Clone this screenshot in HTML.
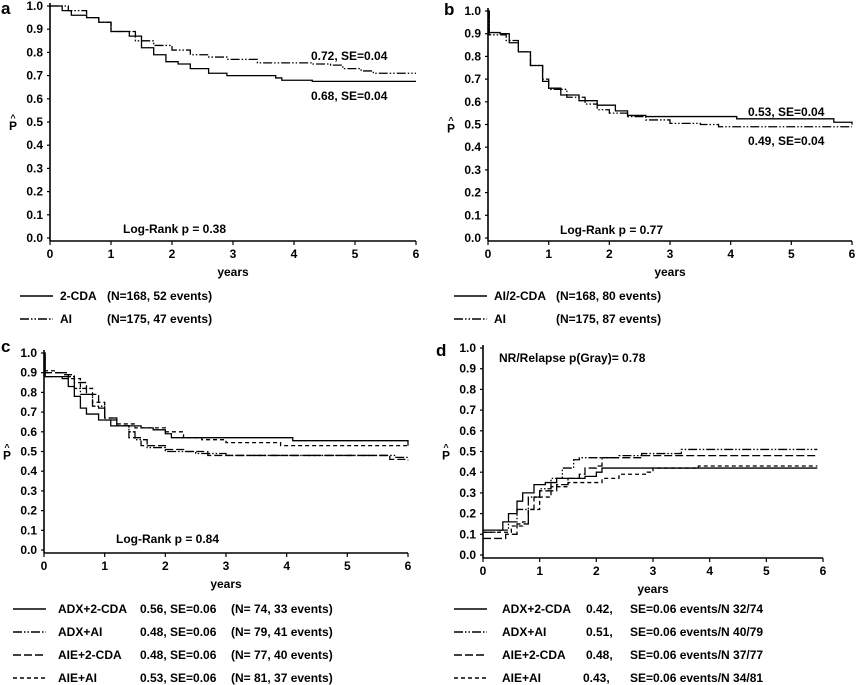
<!DOCTYPE html>
<html><head><meta charset="utf-8"><style>
html,body{margin:0;padding:0;background:#fff;}
svg{display:block;font-family:"Liberation Sans",Arial,sans-serif;font-weight:bold;}
</style></head><body>
<svg id="fig" width="856" height="685" viewBox="0 0 856 685" xmlns="http://www.w3.org/2000/svg"></svg>
<script>
// ---- data ----
const yTicks=["0.0","0.1","0.2","0.3","0.4","0.5","0.6","0.7","0.8","0.9","1.0"];
const xTicks=["0","1","2","3","4","5","6"];
const a_cda=[[0,1],[0.2,0.98],[0.35,0.96],[0.6,0.95],[0.8,0.93],[1,0.89],[1.3,0.87],[1.5,0.82],[1.7,0.79],[1.9,0.76],[2.1,0.75],[2.3,0.73],[2.6,0.71],[2.9,0.70],[3.7,0.69],[3.8,0.68],[4.3,0.675],[6,0.675]];
const a_ai=[[0,1],[0.3,0.98],[0.6,0.95],[0.8,0.93],[1,0.89],[1.4,0.85],[1.7,0.83],[2,0.81],[2.3,0.79],[2.6,0.78],[2.9,0.77],[3.4,0.755],[4.3,0.75],[4.6,0.745],[4.8,0.73],[5.1,0.72],[5.3,0.71],[6,0.71]];
const b_aicda=[[0,1],[0.02,0.905],[0.2,0.9],[0.35,0.86],[0.5,0.82],[0.7,0.76],[0.9,0.69],[1.0,0.66],[1.2,0.63],[1.5,0.605],[1.8,0.585],[2.1,0.56],[2.3,0.54],[2.6,0.535],[4.1,0.525],[5.7,0.51],[6,0.5]];
const b_ai=[[0,1],[0.02,0.895],[0.3,0.87],[0.5,0.82],[0.7,0.76],[0.9,0.7],[1.0,0.655],[1.3,0.62],[1.6,0.59],[1.8,0.565],[2.0,0.55],[2.3,0.535],[2.6,0.52],[3.0,0.505],[3.5,0.5],[3.8,0.49],[6,0.49]];
const c_adxcda=[[0,1],[0.02,0.88],[0.3,0.87],[0.4,0.83],[0.5,0.78],[0.6,0.72],[0.7,0.69],[0.9,0.66],[1.1,0.63],[1.6,0.62],[1.8,0.61],[2.0,0.59],[2.1,0.57],[4.1,0.555],[6,0.53]];
const c_adxai=[[0,0.88],[0.3,0.88],[0.5,0.82],[0.6,0.79],[0.8,0.73],[1.0,0.66],[1.2,0.63],[1.4,0.6],[1.5,0.56],[1.7,0.52],[2.0,0.5],[2.5,0.49],[3,0.48],[5.8,0.47],[6,0.47]];
const c_aiecda=[[0,0.9],[0.3,0.89],[0.5,0.85],[0.7,0.79],[0.9,0.72],[1.0,0.67],[1.2,0.63],[1.4,0.57],[1.6,0.53],[2.0,0.51],[2.3,0.5],[2.7,0.48],[5.7,0.46],[6,0.455]];
const c_aieai=[[0,0.91],[0.2,0.9],[0.4,0.87],[0.6,0.82],[0.8,0.75],[1.0,0.67],[1.2,0.64],[1.5,0.62],[2.0,0.6],[2.3,0.57],[2.6,0.56],[3.0,0.545],[3.9,0.53],[6,0.53]];
const d_adxcda=[[0,0.12],[0.25,0.12],[0.35,0.16],[0.45,0.2],[0.6,0.26],[0.7,0.3],[0.9,0.34],[1.1,0.35],[1.3,0.37],[1.8,0.38],[2.0,0.4],[2.1,0.42],[5.9,0.42]];
const d_adxai=[[0,0.11],[0.3,0.12],[0.45,0.16],[0.6,0.22],[0.8,0.28],[1.0,0.32],[1.2,0.37],[1.4,0.42],[1.6,0.46],[1.7,0.47],[2.4,0.48],[2.8,0.49],[3.5,0.51],[5.9,0.51]];
const d_aiecda=[[0,0.08],[0.3,0.08],[0.4,0.1],[0.6,0.15],[0.8,0.22],[0.9,0.28],[1.0,0.31],[1.3,0.34],[1.5,0.37],[1.7,0.39],[1.8,0.42],[2.0,0.43],[2.1,0.47],[2.8,0.48],[5.9,0.48]];
const d_aieai=[[0,0.11],[0.3,0.11],[0.5,0.14],[0.7,0.16],[0.8,0.22],[1.0,0.28],[1.2,0.33],[1.5,0.35],[2.1,0.37],[2.4,0.39],[2.9,0.40],[3.0,0.42],[3.8,0.43],[5.9,0.43]];

const NS="http://www.w3.org/2000/svg";
const svg=document.getElementById('fig');
function mk(tag,attrs,parent,text){const e=document.createElementNS(NS,tag);for(const k in attrs)e.setAttribute(k,attrs[k]);if(text!==undefined)e.textContent=text;(parent||svg).appendChild(e);return e;}
const DASH={solid:"",dd:"9 2 1.5 2 1.5 2",ld:"8 3",sd:"4 3"};

function panel(p){
  const g=mk('g',{});
  
  
  const sx=v=>p.x0+(p.x1-p.x0)*v/6, sy=v=>p.y0+(p.y1-p.y0)*v;
  const lab=mk('text',{x:p.lx,y:p.ly,'font-size':17},g,p.id);
  
  const ya=mk('line',{x1:p.x0,y1:p.y1-3,x2:p.x0,y2:p.y0+3,stroke:'#000','stroke-width':1.6},g);
  
  const xa=mk('line',{x1:p.x0,y1:p.y0+3,x2:p.x1,y2:p.y0+3,stroke:'#000','stroke-width':1.6},g);
  
  yTicks.forEach((t,i)=>{const y=sy(i/10);
    mk('line',{x1:p.x0-3,y1:y,x2:p.x0,y2:y,stroke:'#000','stroke-width':1.2},g);
    const tx=mk('text',{x:p.x0-7,y:y+4,'font-size':12,'text-anchor':'end'},g,t);
    });
  xTicks.forEach((t,i)=>{const x=sx(i);
    mk('line',{x1:x,y1:p.y0+3,x2:x,y2:p.y0+7,stroke:'#000','stroke-width':1.2},g);
    const tx=mk('text',{x:x,y:p.y0+20,'font-size':12,'text-anchor':'middle'},g,t);
    });
  const xt=mk('text',{x:(p.x0+p.x1)/2,y:p.y0+38,'font-size':12,'text-anchor':'middle'},g,'years');
  
  const yt=mk('text',{x:p.x0-37,y:(p.y0+p.y1)/2+8,'font-size':12,'text-anchor':'middle'},g,'P');
  
  mk('text',{x:p.x0-37,y:(p.y0+p.y1)/2-1,'font-size':9,'text-anchor':'middle'},g,'^');
  p.series.forEach(s=>{
    let d='';s.data.forEach((pt,i)=>{const x=sx(pt[0]),y=sy(pt[1]);
      if(i===0)d+='M'+x+','+y;else d+='H'+x+'V'+y;});
    const last=s.data[s.data.length-1];d+='H'+sx(last[0]);
    const pa=mk('path',{d:d,fill:'none',stroke:'#000','stroke-width':1.3,'stroke-dasharray':DASH[s.style]},g);
    
  });
  p.texts.forEach(t=>{const e=mk('text',{x:t[0],y:t[1],'font-size':12},g,t[2]);
    });
  p.legend.forEach(l=>{
    const ln=mk('line',{x1:l.lx,y1:l.y-4,x2:l.lx+33,y2:l.y-4,stroke:'#000','stroke-width':1.5,'stroke-dasharray':DASH[l.style]},g);
    
    l.cols.forEach(c=>{const e=mk('text',{x:c[0],y:l.y,'font-size':12},g,c[1]);
      });
  });
}

panel({id:'a',x0:50,x1:416,y0:238,y1:6,lx:1,ly:14,
 series:[{name:'2-cda',data:a_cda,style:'solid'},{name:'ai',data:a_ai,style:'dd'}],
 texts:[[311,60,'0.72, SE=0.04'],[311,100,'0.68, SE=0.04'],[123,233,'Log-Rank p = 0.38']],
 legend:[{lx:20,y:300,style:'solid',cols:[[60,'2-CDA'],[107,'(N=168, 52 events)']]},
         {lx:20,y:323,style:'dd',cols:[[60,'AI'],[107,'(N=175, 47 events)']]}]});
panel({id:'b',x0:488,x1:852,y0:238,y1:11,lx:444,ly:15,
 series:[{name:'ai-2cda',data:b_aicda,style:'solid'},{name:'ai',data:b_ai,style:'dd'}],
 texts:[[748,116,'0.53, SE=0.04'],[748,145,'0.49, SE=0.04'],[560,234,'Log-Rank p = 0.77']],
 legend:[{lx:454,y:300,style:'solid',cols:[[494,'AI/2-CDA'],[556,'(N=168, 80 events)']]},
         {lx:454,y:323,style:'dd',cols:[[494,'AI'],[556,'(N=175, 87 events)']]}]});
panel({id:'c',x0:44,x1:408,y0:550,y1:353,lx:1,ly:352,
 series:[{name:'adx-2cda',data:c_adxcda,style:'solid'},{name:'adx-ai',data:c_adxai,style:'dd'},{name:'aie-2cda',data:c_aiecda,style:'ld'},{name:'aie-ai',data:c_aieai,style:'sd'}],
 texts:[[116,543,'Log-Rank p = 0.84']],
 legend:[{lx:13,y:613,style:'solid',cols:[[58,'ADX+2-CDA'],[140,'0.56, SE=0.06'],[231,'(N= 74, 33 events)']]},
         {lx:13,y:636,style:'dd',cols:[[58,'ADX+AI'],[140,'0.48, SE=0.06'],[231,'(N= 79, 41 events)']]},
         {lx:13,y:659,style:'ld',cols:[[58,'AIE+2-CDA'],[140,'0.48, SE=0.06'],[231,'(N= 77, 40 events)']]},
         {lx:13,y:682,style:'sd',cols:[[58,'AIE+AI'],[140,'0.53, SE=0.06'],[231,'(N= 81, 37 events)']]}]});
panel({id:'d',x0:483,x1:823,y0:555,y1:348,lx:436,ly:356,
 series:[{name:'adx-2cda',data:d_adxcda,style:'solid'},{name:'adx-ai',data:d_adxai,style:'dd'},{name:'aie-2cda',data:d_aiecda,style:'ld'},{name:'aie-ai',data:d_aieai,style:'sd'}],
 texts:[[499,362,'NR/Relapse p(Gray)= 0.78']],
 legend:[{lx:454,y:613,style:'solid',cols:[[502,'ADX+2-CDA'],[586,'0.42,'],[630,'SE=0.06 events/N  32/74']]},
         {lx:454,y:636,style:'dd',cols:[[502,'ADX+AI'],[586,'0.51,'],[630,'SE=0.06 events/N  40/79']]},
         {lx:454,y:659,style:'ld',cols:[[502,'AIE+2-CDA'],[586,'0.48,'],[630,'SE=0.06 events/N  37/77']]},
         {lx:454,y:682,style:'sd',cols:[[502,'AIE+AI'],[583,'0.43,'],[630,'SE=0.06 events/N  34/81']]}]});
</script>
</body></html>
